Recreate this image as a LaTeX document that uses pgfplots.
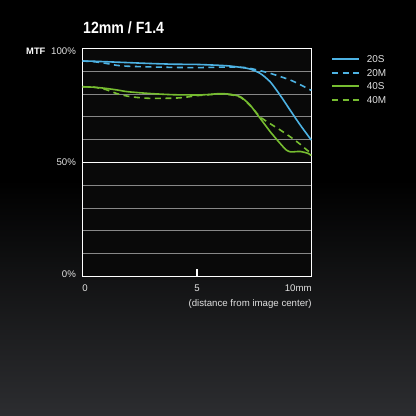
\documentclass[border=0pt]{standalone}
\usepackage{pgfplots}
\pgfplotsset{compat=1.18}
\usepackage{fontspec}
\setmainfont{Liberation Sans}
\definecolor{mtfblue}{RGB}{77,178,227}
\definecolor{mtfgreen}{RGB}{118,188,48}
\definecolor{bgbot}{RGB}{44,45,48}
\definecolor{gridgray}{RGB}{135,135,135}
\definecolor{lblgray}{RGB}{225,225,225}
\definecolor{plotbg}{RGB}{9,9,9}

\pgfplotstableread{
x y
0 94.5
0.5 94.4
1 94.2
2 93.8
3 93.4
4 93.1
5 93.0
6 92.6
6.45 92.3
7 91.6
7.32 91.0
7.76 89.1
8.2 85.4
8.63 79.6
9.07 73.0
9.51 66.5
10 59.8
}\twentyS

\pgfplotstableread{
x y
0 94.5
0.5 94.2
1 93.5
1.5 92.6
2 92.2
3 91.9
4 91.7
5 91.6
6 91.8
6.5 91.9
7 91.7
7.32 91.3
8.2 89.1
9.07 86.2
9.5 84.2
10 81.6
}\twentyM

\pgfplotstableread{
x y
0 83.2
0.5 83.0
1 82.5
1.5 81.8
2 81.0
3 80.2
4 79.7
5 79.6
5.5 79.8
6 80.2
6.45 79.9
6.9 78.8
7.32 75.2
7.76 69.4
8.2 63.5
8.63 58.4
8.9 55.5
9.1 54.6
9.5 54.8
9.85 54.0
10 53.0
}\fortyS

\pgfplotstableread{
x y
0 83.2
0.5 83.0
1 82.0
1.5 80.2
2 79.0
2.5 78.4
3 78.1
4 78.2
4.5 78.6
5 79.3
5.5 79.7
6 80.0
6.45 79.7
6.9 78.6
7.32 75.0
7.76 70.0
8.2 67.0
8.63 64.3
9.07 61.3
9.51 58.0
9.8 55.5
10 54.0
}\fortyM

\begin{document}
\begin{tikzpicture}
\fill[black] (0bp,0bp) rectangle (416bp,416bp);
\shade[top color=black,bottom color=bgbot] (0bp,0bp) rectangle (416bp,236bp);
\useasboundingbox (0bp,0bp) rectangle (416bp,416bp);
\node[anchor=base west,inner sep=0pt,text=white,font=\bfseries\fontsize{16.3}{18}\selectfont] at (83bp,382.7bp) {\scalebox{0.87}[1]{12mm / F1.4}};
\node[anchor=base west,inner sep=0pt,text=white,font=\bfseries\fontsize{9.4}{10}\selectfont] at (26bp,361bp) {MTF};
\begin{axis}[
  at={(82.7bp,139.7bp)}, anchor=south west,
  scale only axis, width=228.6bp, height=227.8bp,
  xmin=0, xmax=10, ymin=0, ymax=100,
  axis background/.style={fill=plotbg},
  axis line style={white, line width=1.3bp},
  tick align=inside,
  major tick length=7bp,
  minor tick length=0pt,
  xtick={0,5}, xticklabels={\hspace*{4.6bp}0,5},
  xtick pos=bottom,
  xtick style={white, line width=1.2bp},
  ytick={0,50,100},
  yticklabels={\raisebox{-1bp}{0\%},\raisebox{-3.3bp}{50\%},\raisebox{-6.5bp}{100\%}},
  ytick pos=left,
  ytick style={white, line width=1.2bp},
  minor ytick={10,20,30,40,60,70,80,90},
  ymajorgrids, yminorgrids,
  major grid style={white, line width=1.3bp},
  minor grid style={gridgray, line width=0.9bp},
  xticklabel style={text=lblgray, font=\fontsize{9.7}{10}\selectfont, anchor=base, inner sep=0pt, yshift=-15.2bp},
  yticklabel style={text=lblgray, font=\fontsize{9.7}{10}\selectfont, anchor=base east, inner sep=0pt, xshift=-6.6bp},
  clip=false,
]
\addplot[mtfblue, line width=1.6bp, smooth, tension=0.4] table {\twentyS};
\addplot[mtfblue, line width=1.6bp, dash pattern=on 6bp off 4.5bp, smooth, tension=0.4] table {\twentyM};
\addplot[mtfgreen, line width=1.6bp, smooth, tension=0.4] table {\fortyS};
\addplot[mtfgreen, line width=1.6bp, dash pattern=on 6bp off 4.5bp, smooth, tension=0.4] table {\fortyM};
\node[anchor=base east, inner sep=0pt, text=lblgray, font=\fontsize{9.7}{10}\selectfont] at (axis cs:10,0) [xshift=0.5bp, yshift=-15.2bp] {10mm};
\node[anchor=base east, inner sep=0pt, text=lblgray, font=\fontsize{9.7}{10}\selectfont] at (axis cs:10,0) [xshift=0.5bp, yshift=-30.2bp] {(distance from image center)};
\end{axis}
% legend
\draw[mtfblue, line width=2bp] (332bp,357bp) -- (359bp,357bp);
\draw[mtfblue, line width=2bp, dash pattern=on 6bp off 4.5bp] (332bp,343bp) -- (359bp,343bp);
\draw[mtfgreen, line width=2bp] (332bp,330bp) -- (359bp,330bp);
\draw[mtfgreen, line width=2bp, dash pattern=on 6bp off 4.5bp] (332bp,316bp) -- (359bp,316bp);
\begin{scope}[every node/.style={anchor=base west, inner sep=0pt, text=lblgray, font=\fontsize{10}{11}\selectfont}]
\node at (366.7bp,353.4bp) {20S};
\node at (366.7bp,339.6bp) {20M};
\node at (366.7bp,326.2bp) {40S};
\node at (366.7bp,312.4bp) {40M};
\end{scope}
\end{tikzpicture}
\end{document}
